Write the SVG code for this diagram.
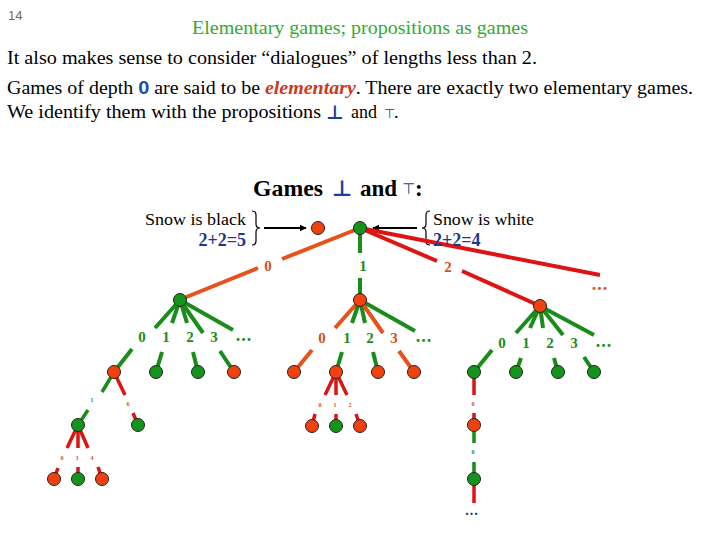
<svg xmlns="http://www.w3.org/2000/svg" width="720" height="540" viewBox="0 0 720 540">
<defs>
<marker id="ah" viewBox="0 0 10 10" refX="9" refY="5" markerWidth="7" markerHeight="7" markerUnits="userSpaceOnUse" orient="auto"><path d="M0,0 L10,5 L0,10 z" fill="#000"/></marker>
<style>
.t{font-family:"Liberation Serif","Times New Roman",serif;fill:#000}
.sym{font-family:"DejaVu Sans",sans-serif;fill:#1a3f9a}
.g{stroke:#1a8c1a;stroke-width:4;fill:none}
.o{stroke:#e5521c;stroke-width:4;fill:none}
.r{stroke:#dd1414;stroke-width:4;fill:none}
.r3{stroke:#dd1414;stroke-width:3.5;fill:none}
.g3{stroke:#1a8c1a;stroke-width:3.5;fill:none}
.nr{fill:#f2400f;stroke:#222;stroke-width:1}
.ng{fill:#14941a;stroke:#222;stroke-width:1}
.lb{font-family:"Liberation Serif","Times New Roman",serif;font-size:15px;font-weight:bold;text-anchor:middle}
.lg{fill:#1a8c1a}
.lo{fill:#d4501e}
.tiny{font-family:"Liberation Serif",serif;font-size:6px;font-weight:bold;text-anchor:middle}
.dots{font-family:"Liberation Serif",serif;font-size:18px;font-weight:bold;text-anchor:middle;letter-spacing:1px}
.br{stroke:#000;stroke-width:1.2;fill:none}
</style>
</defs>
<rect width="720" height="540" fill="#fff"/>

<!-- header -->
<text x="8" y="20" font-family="Liberation Sans Narrow,Liberation Sans,sans-serif" font-size="13" fill="#7a6a40">14</text>
<text class="t" x="192" y="34" font-size="18" style="fill:#33aa33" textLength="336" lengthAdjust="spacingAndGlyphs">Elementary games; propositions as games</text>
<text class="t" x="7" y="64" font-size="18" textLength="530" lengthAdjust="spacingAndGlyphs">It also makes sense to consider “dialogues” of lengths less than 2.</text>
<text class="t" x="7" y="94" font-size="18" textLength="686" lengthAdjust="spacingAndGlyphs">Games of depth <tspan font-family="Liberation Sans,sans-serif" font-weight="bold" fill="#1a4fa8">0</tspan> are said to be <tspan font-weight="bold" font-style="italic" fill="#cc3a1a">elementary</tspan>. There are exactly two elementary games.</text>
<text class="t" x="7" y="118" font-size="18" textLength="314" lengthAdjust="spacingAndGlyphs">We identify them with the propositions</text>
<text class="sym" x="326" y="119" font-size="19" font-weight="bold">⊥</text>
<text class="t" x="351" y="118" font-size="18">and</text>
<text class="sym" x="384" y="118" font-size="13">⊤</text>
<text class="t" x="394" y="118" font-size="18">.</text>

<!-- heading -->
<text class="t" x="253" y="196" font-size="23" font-weight="bold" textLength="70" lengthAdjust="spacingAndGlyphs">Games</text>
<text class="sym" x="332" y="196" font-size="22" font-weight="bold">⊥</text>
<text class="t" x="360" y="196" font-size="23" font-weight="bold">and</text>
<text class="sym" x="402" y="194" font-size="15">⊤</text>
<text class="t" x="415" y="196" font-size="23" font-weight="bold">:</text>

<!-- side labels -->
<text class="t" x="145" y="225" font-size="17.5" textLength="101" lengthAdjust="spacingAndGlyphs">Snow is black</text>
<text class="t" x="246" y="246" font-size="18" font-weight="bold" text-anchor="end" style="fill:#1a3a8a">2+2=5</text>
<path class="br" d="M252,211 q4,0 4,4 v9 q0,4 4,4 q-4,0 -4,4 v9 q0,4 -4,4"/>
<text class="t" x="433" y="225" font-size="17.5" textLength="101" lengthAdjust="spacingAndGlyphs">Snow is white</text>
<path class="br" d="M430,211 q-4,0 -4,4 v9 q0,4 -4,4 q4,0 4,4 v9 q0,4 4,4"/>

<!-- connectors -->
<g id="connectors">
<line x1="264" y1="228" x2="306" y2="228" stroke="#000" stroke-width="2" marker-end="url(#ah)"/>
<line x1="417" y1="228" x2="373" y2="228" stroke="#000" stroke-width="2" marker-end="url(#ah)"/>
<!-- level 1 -->
<path class="o" d="M360,228 L282,259 M258,268 L179,300"/>
<path class="g" d="M360,228 L360,253 M360,278 L360,300"/>
<path class="r" d="M360,228 L437,261 M462,271 L540,306"/>
<path class="r" d="M360,228 L600,275"/>
<!-- left subtree -->
<path class="g" d="M180,300 L155,328 M132,349 L114,372"/>
<path class="g" d="M180,300 L172,323 M162,352 L156,372"/>
<path class="g" d="M180,300 L187,323 M193,352 L198,372"/>
<path class="g" d="M180,300 L203,333 M220,351 L234,372"/>
<path class="g" d="M180,300 L233,330"/>
<path class="g3" d="M114,372 L102,392 M88,410 L78,425"/>
<path class="r3" d="M114,372 L125,395 M133,413 L138,425"/>
<path class="r3" d="M78,425 L67,448 M58,468 L54,479"/>
<path class="r3" d="M78,425 L78,448 M78,467 L78,479"/>
<path class="r3" d="M78,425 L88,448 M98,467 L102,479"/>
<!-- middle subtree -->
<path class="o" d="M360,300 L335,328 M312,350 L294,372"/>
<path class="g" d="M360,300 L352,323 M342,352 L336,372"/>
<path class="g" d="M360,300 L365,323 M373,352 L378,372"/>
<path class="o" d="M360,300 L383,333 M399,351 L414,372"/>
<path class="g" d="M360,300 L415,331"/>
<path class="r3" d="M336,372 L325,395 M315,414 L312,426"/>
<path class="r3" d="M336,372 L336,395 M336,414 L336,426"/>
<path class="r3" d="M336,372 L347,395 M356,414 L360,426"/>
<!-- right subtree -->
<path class="g" d="M540,306 L516,333 M492,350 L474,372"/>
<path class="g" d="M540,306 L530,328 M521,358 L516,372"/>
<path class="g" d="M540,306 L543,328 M554,358 L558,372"/>
<path class="g" d="M540,306 L563,335 M584,357 L594,372"/>
<path class="g" d="M540,306 L594,335"/>
<path class="r3" d="M474,372 L474,395 M474,413 L474,425"/>
<path class="g3" d="M474,425 L474,443 M474,462 L474,479"/>
<path class="r3" d="M474,479 L474,503"/>
</g>

<text class="t" x="433" y="246" font-size="18" font-weight="bold" style="fill:#1a3a8a">2+2=4</text>

<!-- edge labels -->
<g id="labels">
<text class="lb lo" x="268" y="271">0</text>
<text class="lb lg" x="363" y="271">1</text>
<text class="lb lo" x="448" y="272">2</text>
<text class="dots lo" x="600" y="290">...</text>

<text class="lb lg" x="142" y="342">0</text>
<text class="lb lg" x="166" y="342">1</text>
<text class="lb lg" x="190" y="342">2</text>
<text class="lb lg" x="214" y="342">3</text>
<text class="dots lg" x="244" y="341">...</text>

<text class="lb lo" x="322" y="343">0</text>
<text class="lb lg" x="347" y="343">1</text>
<text class="lb lg" x="370" y="343">2</text>
<text class="lb lo" x="394" y="343">3</text>
<text class="dots lg" x="424" y="342">...</text>

<text class="lb lg" x="502" y="348">0</text>
<text class="lb lg" x="526" y="348">1</text>
<text class="lb lg" x="550" y="348">2</text>
<text class="lb lg" x="574" y="348">3</text>
<text class="dots lg" x="604" y="347">...</text>

<text class="tiny lg" x="92" y="402">1</text>
<text class="tiny lo" x="128" y="406">6</text>
<text class="tiny lo" x="62" y="460">0</text>
<text class="tiny lo" x="77" y="460">3</text>
<text class="tiny lo" x="92" y="460">4</text>
<text class="tiny lo" x="320" y="407">0</text>
<text class="tiny lo" x="335" y="407">1</text>
<text class="tiny lo" x="350" y="407">2</text>
<text class="tiny lo" x="473" y="406">0</text>
<text class="tiny lg" x="473" y="454">0</text>
<text class="dots" x="472" y="515" style="font-size:14px;fill:#1a3a8a">...</text>
</g>

<!-- nodes -->
<g id="n-bot"><circle class="nr" cx="318" cy="228" r="6.5"/></g>
<g id="n-top"><circle class="ng" cx="360" cy="228" r="6.5"/></g>
<g id="n-a"><circle class="ng" cx="180" cy="300" r="6.5"/></g>
<g id="n-b"><circle class="nr" cx="360" cy="300" r="6.5"/></g>
<g id="n-c"><circle class="nr" cx="540" cy="306" r="6.5"/></g>
<g id="n-a0"><circle class="nr" cx="114" cy="372" r="6.5"/></g>
<g id="n-a1"><circle class="ng" cx="156" cy="372" r="6.5"/></g>
<g id="n-a2"><circle class="ng" cx="198" cy="372" r="6.5"/></g>
<g id="n-a3"><circle class="nr" cx="234" cy="372" r="6.5"/></g>
<g id="n-b0"><circle class="nr" cx="294" cy="372" r="6.5"/></g>
<g id="n-b1"><circle class="nr" cx="336" cy="372" r="6.5"/></g>
<g id="n-b2"><circle class="nr" cx="378" cy="372" r="6.5"/></g>
<g id="n-b3"><circle class="nr" cx="414" cy="372" r="6.5"/></g>
<g id="n-c0"><circle class="ng" cx="474" cy="372" r="6.5"/></g>
<g id="n-c1"><circle class="ng" cx="516" cy="372" r="6.5"/></g>
<g id="n-c2"><circle class="ng" cx="558" cy="372" r="6.5"/></g>
<g id="n-c3"><circle class="ng" cx="594" cy="372" r="6.5"/></g>
<g id="n-a00"><circle class="ng" cx="78" cy="425" r="6.5"/></g>
<g id="n-a01"><circle class="ng" cx="138" cy="425" r="6.5"/></g>
<g id="n-a000"><circle class="nr" cx="54" cy="479" r="6.5"/></g>
<g id="n-a001"><circle class="ng" cx="78" cy="479" r="6.5"/></g>
<g id="n-a002"><circle class="nr" cx="102" cy="479" r="6.5"/></g>
<g id="n-b10"><circle class="nr" cx="312" cy="426" r="6.5"/></g>
<g id="n-b11"><circle class="ng" cx="336" cy="426" r="6.5"/></g>
<g id="n-b12"><circle class="nr" cx="360" cy="426" r="6.5"/></g>
<g id="n-c00"><circle class="nr" cx="474" cy="425" r="6.5"/></g>
<g id="n-c000"><circle class="ng" cx="474" cy="479" r="6.5"/></g>
</svg>
